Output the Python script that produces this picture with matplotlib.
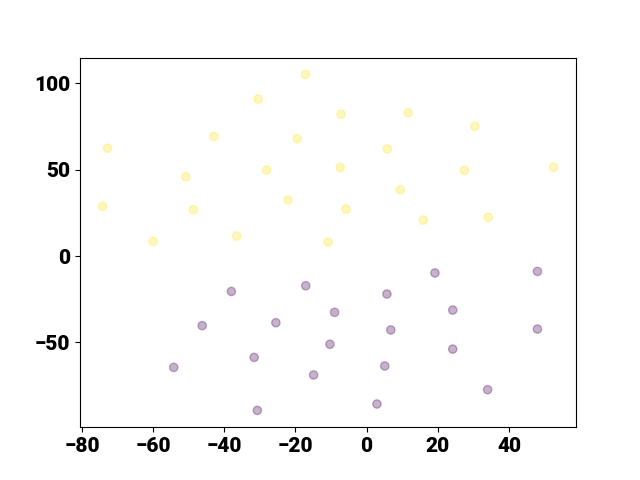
import numpy as np
import matplotlib
matplotlib.use("Agg")
import matplotlib.pyplot as plt

plt.rcParams['font.family'] = ['Roboto', 'DejaVu Sans']
plt.rcParams['font.weight'] = 'heavy'
plt.rcParams['font.size'] = 15

# cluster 1 (upper, yellow)
x_upper = [-72.8, -74.2, -60.0, -50.8, -48.7, -42.9, -36.5, -30.5, -28.1, -19.5,
           -22.1, -17.2, -7.2, 11.7, 30.4, 5.8, -7.4, 27.5, 52.5, 9.5,
           -5.8, 15.9, 34.2, -10.8]
y_upper = [62.4, 28.8, 8.5, 45.9, 26.8, 69.3, 11.6, 90.9, 49.8, 67.9,
           32.4, 105.2, 82.2, 83.0, 75.1, 62.1, 51.3, 49.6, 51.5, 38.4,
           27.2, 20.8, 22.4, 8.1]

# cluster 0 (lower, purple)
x_lower = [-38.0, -17.1, -46.2, -25.5, -54.2, -31.6, -14.9, -30.7, -9.0, -10.3,
           5.7, 6.8, 5.1, 2.9, 19.2, 24.2, 24.2, 34.0, 48.0, 48.0]
y_lower = [-20.5, -17.2, -40.3, -38.6, -64.5, -58.7, -68.9, -89.4, -32.6, -51.1,
           -22.0, -42.8, -63.7, -85.7, -9.8, -31.3, -53.9, -77.4, -8.9, -42.3]

x = np.array(x_lower + x_upper)
y = np.array(y_lower + y_upper)
labels = np.array([0] * len(x_lower) + [1] * len(x_upper))

fig = plt.figure(figsize=(6.4, 4.8), dpi=100)
plt.scatter(x, y, c=labels, cmap='viridis', alpha=0.3)
plt.savefig('out.png')
